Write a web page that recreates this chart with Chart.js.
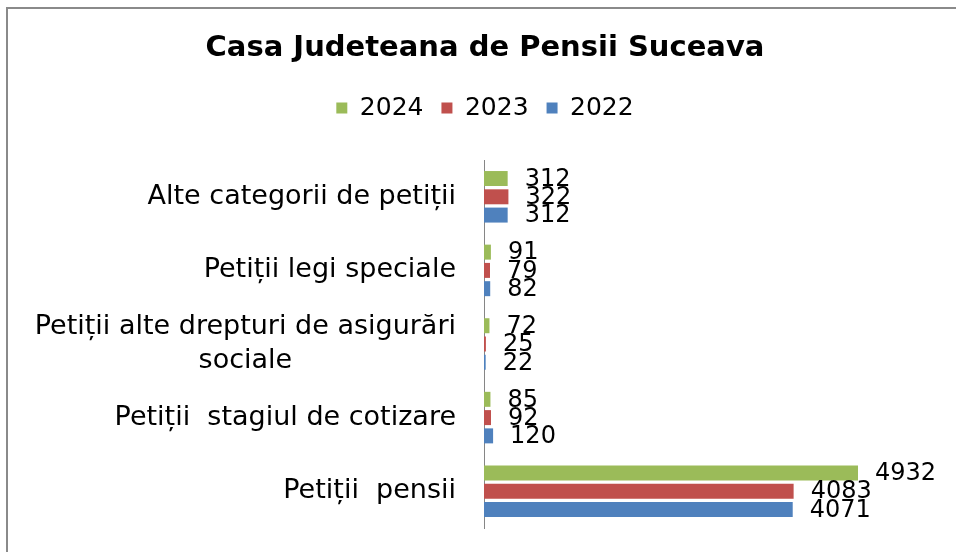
<!DOCTYPE html>
<html><head><meta charset="utf-8">
<script src="https://cdn.jsdelivr.net/npm/chart.js@4/dist/chart.umd.min.js"></script>
<style>
html,body{margin:0;padding:0;background:#fff;}
#wrap{position:relative;width:956px;height:552px;overflow:hidden;background:#fff;}
#frame{position:absolute;left:6px;top:7px;width:1000px;height:600px;border:2px solid #8a8a8a;box-sizing:border-box;}
canvas{position:absolute;left:0;top:0;}
</style></head><body>
<div id="wrap"><div id="frame"></div><canvas id="c" width="956" height="552"></canvas></div>
<script>
const chartTitle = 'Casa Judeteana de Pensii Suceava';
const categories = [
  'Alte categorii de petiții',
  'Petiții legi speciale',
  ['Petiții alte drepturi de asigurări', 'sociale'],
  'Petiții  stagiul de cotizare',
  'Petiții  pensii'
];
const seriesNames = ['2024', '2023', '2022'];
const values2024 = [312, 91, 72, 85, 4932];
const values2023 = [322, 79, 25, 92, 4083];
const values2022 = [312, 82, 22, 120, 4071];
const xMax = 6000;

const colors = ['#9BBB59', '#C0504D', '#4F81BD'];
const FONT = '"DejaVu Sans", sans-serif';
const PAD_LEFT = 31;
const AXIS_X = 484;
const PLOT_TOP = 160;

const yLabelsPlugin = {
  id: 'yLabels',
  afterDraw(chart) {
    const ctx = chart.ctx, y = chart.scales.y;
    ctx.save();
    ctx.font = '27px ' + FONT;
    ctx.fillStyle = '#000';
    ctx.textBaseline = 'middle';
    ctx.textAlign = 'center';
    const right = chart.chartArea.left - 28;
    categories.forEach((lab, i) => {
      const lines = Array.isArray(lab) ? lab : [lab];
      const w = Math.max(...lines.map(l => ctx.measureText(l).width));
      const cx = right - w / 2;
      const cy = y.getPixelForTick(i);
      const lh = 34;
      lines.forEach((l, j) => ctx.fillText(l, cx, cy + (j - (lines.length - 1) / 2) * lh));
    });
    ctx.restore();
  }
};

const valueLabelsPlugin = {
  id: 'valueLabels',
  afterDatasetsDraw(chart) {
    const ctx = chart.ctx;
    ctx.save();
    ctx.font = '24px ' + FONT;
    ctx.fillStyle = '#000';
    ctx.textBaseline = 'middle';
    ctx.textAlign = 'left';
    chart.data.datasets.forEach((ds, di) => {
      chart.getDatasetMeta(di).data.forEach((bar, i) => {
        ctx.fillText(String(ds.data[i]), bar.x + 17, bar.y + 1);
      });
    });
    ctx.restore();
  }
};

const legendFitPlugin = {
  id: 'legendFit',
  beforeInit(chart) {
    const lg = chart.legend;
    if (!lg) return;
    const orig = lg.fit;
    lg.fit = function () {
      orig.call(this);
      const t = chart.titleBlock;
      const titleBottom = t ? (t.options.padding.top + t.options.padding.bottom + t.options.font.size * 1.2) : 0;
      this.height = PLOT_TOP - titleBottom;
    };
  }
};

new Chart(document.getElementById('c'), {
  type: 'bar',
  data: {
    labels: categories,
    datasets: [
      { label: seriesNames[0], data: values2024, backgroundColor: colors[0] },
      { label: seriesNames[1], data: values2023, backgroundColor: colors[1] },
      { label: seriesNames[2], data: values2022, backgroundColor: colors[2] }
    ]
  },
  options: {
    indexAxis: 'y',
    responsive: false,
    animation: false,
    devicePixelRatio: 1,
    categoryPercentage: 0.745,
    barPercentage: 0.82,
    layout: { padding: { left: PAD_LEFT, right: 17, top: 0, bottom: 24 } },
    scales: {
      x: { display: false, min: 0, max: xMax },
      y: {
        grid: { display: false },
        border: { display: true, color: '#868686', width: 1 },
        ticks: { display: false },
        afterFit(scale) { scale.width = AXIS_X - PAD_LEFT; }
      }
    },
    plugins: {
      title: {
        display: true, text: chartTitle, color: '#000',
        font: { family: FONT, size: 29, weight: 'bold' },
        padding: { top: 30.6, bottom: 12.1 }
      },
      legend: {
        display: true, position: 'top',
        labels: {
          color: '#000', boxWidth: 11, boxHeight: 11, padding: 18,
          font: { family: FONT, size: 25 }
        }
      },
      tooltip: { enabled: false }
    }
  },
  plugins: [legendFitPlugin, yLabelsPlugin, valueLabelsPlugin]
});
</script>
</body></html>
